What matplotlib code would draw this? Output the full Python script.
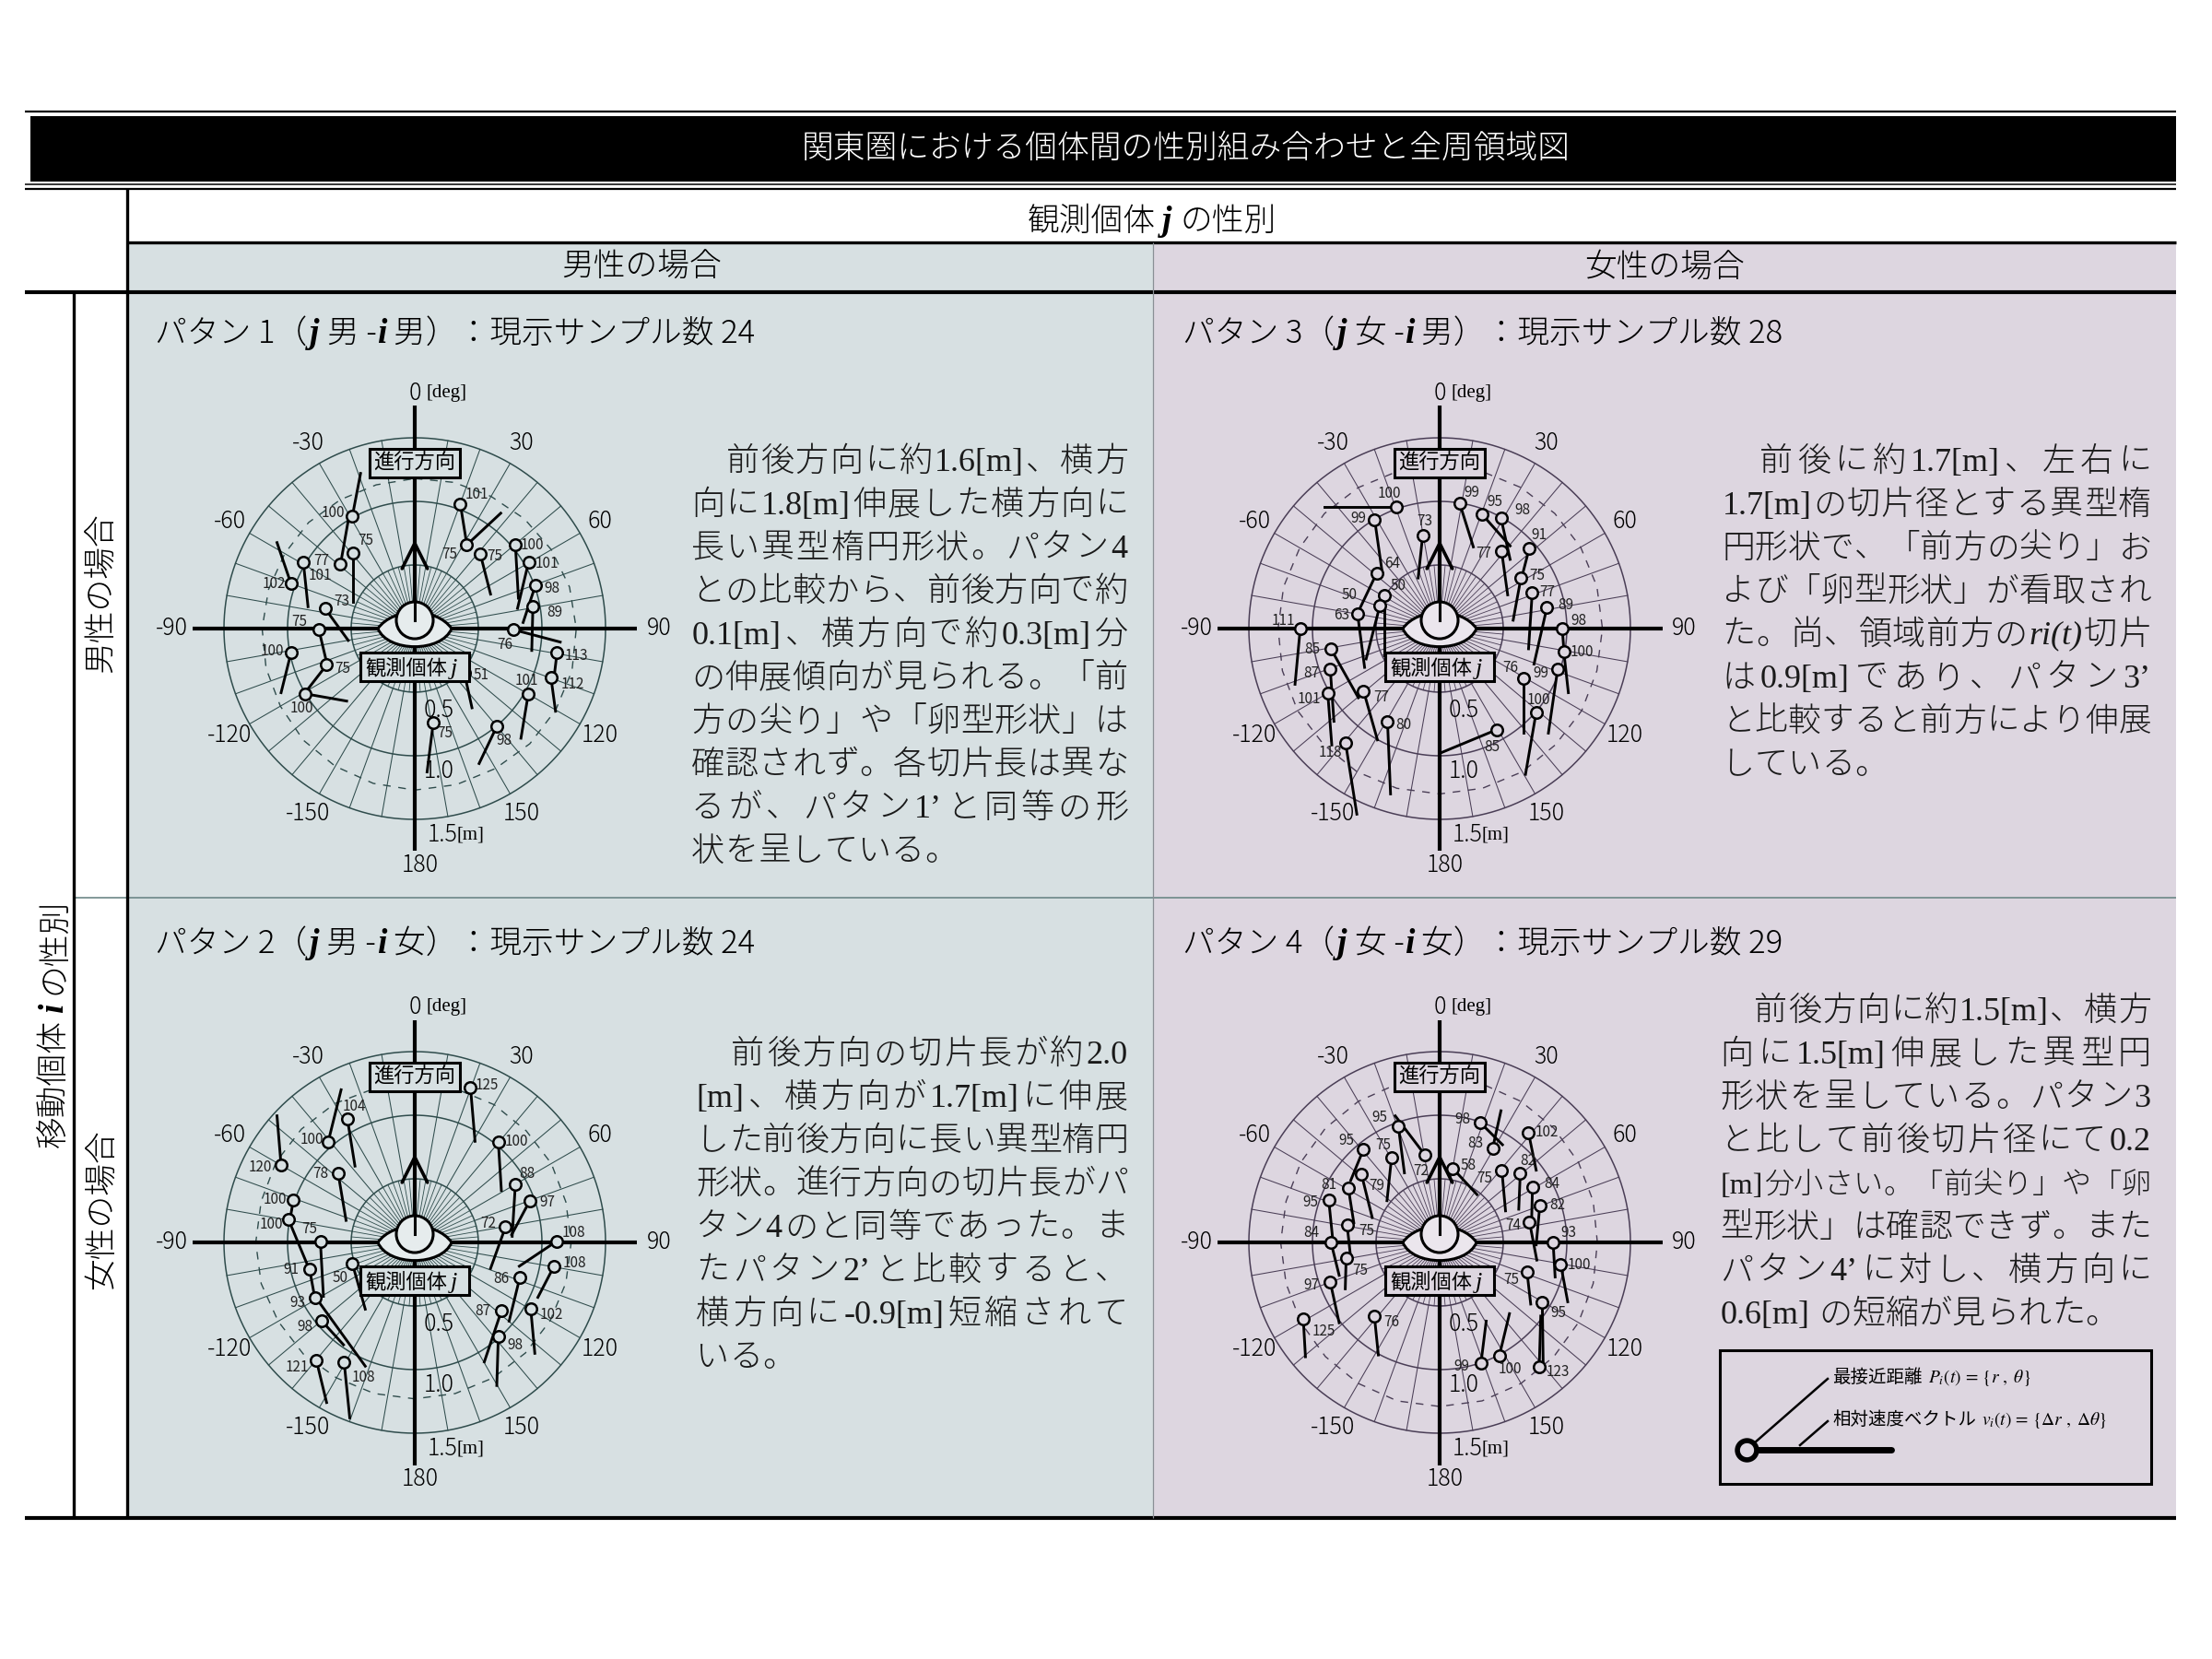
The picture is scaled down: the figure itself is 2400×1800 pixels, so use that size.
import matplotlib

matplotlib.use("Agg")
import matplotlib.pyplot as plt
import numpy as np
from matplotlib.patches import Circle, PathPatch, Rectangle
from matplotlib.path import Path

W, H = 2400, 1800
CJK = ["Noto Sans CJK JP", "DejaVu Sans"]
SERIF = ["Liberation Serif", "DejaVu Serif"]
plt.rcParams["font.family"] = CJK
plt.rcParams["mathtext.fontset"] = "stix"

BLUE = "#d7e0e2"
LAV = "#ddd6e0"
EYE_B = "#e6eced"
EYE_L = "#ebe6ed"
GRID_B = "#2f4c4c"
GRID_L = "#4a3e56"

TITLE = "関東圏における個体間の性別組み合わせと全周領域図"

# --- pattern 1 (j male - i male): position (x lateral, y forward) [m], vector end, label
p1_x = [-0.491, -0.584, -0.482, -0.876, -0.973, -0.706, -0.754, -0.693, -0.864, -0.973,
        0.358, 0.409, 0.516, 0.791, 0.895, 0.949, 0.929, 0.774, 1.119, 1.071, 0.893, 0.389, 0.645, 0.146]
p1_y = [0.881, 0.504, 0.597, 0.523, 0.353, 0.159, -0.008, -0.286, -0.512, -0.191,
        0.981, 0.658, 0.584, 0.663, 0.523, 0.340, 0.172, -0.008, -0.186, -0.385, -0.512, -0.345, -0.769, -0.737]
p1_tx = [-0.426, -0.523, -0.482, -0.839, -1.083, -0.523, -0.693, -0.852, -0.535, -1.051,
         0.409, 0.676, 0.596, 0.815, 0.808, 0.852, 0.920, 1.144, 1.095, 1.107, 0.835, 0.450, 0.506, 0.097]
p1_ty = [1.220, 0.849, 0.212, 0.172, 0.676, -0.093, -0.265, -0.491, -0.570, -0.504,
         0.663, 0.907, 0.271, 0.239, 0.159, 0.048, -0.172, -0.106, -0.385, -0.650, -0.862, -0.623, -1.061, -1.127]
p1_lab = [100, 101, 75, 77, 102, 73, 75, 75, 100, 100,
          101, 75, 75, 100, 101, 98, 89, 76, 113, 112, 101, 51, 98, 75]
p1_dash = [1.18, 1.19, 1.20, 1.22, 1.24, 1.26, 1.27, 1.28, 1.28, 1.28, 1.27, 1.27,
           1.27, 1.26, 1.25, 1.24, 1.22, 1.21, 1.20, 1.19, 1.18, 1.18, 1.17, 1.17]

# --- pattern 2 (j male - i female)
p2_x = [0.438, 0.657, 0.791, 0.905, 0.713, 1.114, 1.095, 0.827, 0.681, 0.912, 0.657,
        -0.530, -0.681, -1.051, -0.603, -0.954, -0.993, -0.742, -0.827, -0.491, -0.779, -0.735, -0.774, -0.555]
p2_y = [1.221, 0.789, 0.456, 0.328, 0.120, 0.008, -0.187, -0.272, -0.539, -0.525, -0.739,
        0.973, 0.789, 0.608, 0.547, 0.336, 0.181, 0.008, -0.211, -0.165, -0.432, -0.613, -0.925, -0.944]
p2_tx = [0.474, 0.681, 0.766, 0.762, 0.596, 0.822, 0.968, 0.742, 0.547, 0.944, 0.645,
         -0.470, -0.579, -1.083, -0.540, -0.978, -0.832, -0.718, -0.779, -0.389, -0.389, -0.560, -0.693, -0.511]
p2_ty = [0.795, 0.408, 0.048, 0.061, -0.205, -0.187, -0.432, -0.619, -0.939, -0.872, -1.125,
         0.600, 1.200, 0.995, 0.173, 0.195, -0.205, -0.424, -0.472, -0.525, -0.973, -0.805, -1.259, -1.379]
p2_lab = [125, 100, 88, 97, 72, 108, 108, 86, 87, 102, 98,
          104, 100, 120, 78, 100, 100, 75, 91, 50, 93, 98, 121, 108]
p2_dash = [1.25, 1.25, 1.25, 1.24, 1.24, 1.23, 1.23, 1.23, 1.23, 1.23, 1.23, 1.23,
           1.23, 1.23, 1.23, 1.24, 1.24, 1.25, 1.25, 1.25, 1.26, 1.26, 1.26, 1.25]

# --- pattern 3 (j female - i male)
p3_x = [-0.337, -0.511, -0.494, -0.646, -0.434, -0.470, -0.133, -1.096, -0.855, -0.860, -0.880, -0.598,
        -0.410, -0.740, 0.446, 0.157, 0.330, 0.482, 0.487, 0.704, 0.639, 0.728, 0.843, 0.964, 0.976,
        0.928, 0.658, 0.759]
p3_y = [0.960, 0.857, 0.438, 0.119, 0.260, 0.180, 0.735, 0.0, -0.159, -0.318, -0.504, -0.491,
        -0.729, -0.897, -0.796, 0.987, 0.902, 0.870, 0.610, 0.629, 0.398, 0.284, 0.164, 0.0, -0.180,
        -0.318, -0.390, -0.658]
p3_tx = [-0.904, -0.453, -0.646, -0.590, -0.434, -0.578, -0.169, -1.137, -0.639, -0.831, -0.848, -0.489,
         -0.386, -0.651, 0.0, 0.265, 0.554, 0.554, 0.535, 0.651, 0.578, 0.699, 0.742, 0.976, 1.012,
         0.855, 0.658, 0.675]
p3_ty = [0.960, 0.451, 0.119, -0.305, -0.212, -0.239, 0.398, -0.438, -0.544, -0.729, -0.915, -0.875,
         -1.300, -1.459, -0.981, 0.642, 0.650, 0.544, 0.265, 0.424, 0.066, -0.159, -0.279, -0.159, -0.504,
         -0.822, -0.822, -1.146]
p3_lab = [100, 99, 64, 63, 50, 50, 73, 111, 85, 87, 101, 77, 80, 118, 85,
          99, 95, 98, 77, 91, 75, 77, 89, 98, 100, 99, 76, 100]
p3_dash = [1.28, 1.28, 1.28, 1.28, 1.28, 1.28, 1.28, 1.28, 1.29, 1.29, 1.30, 1.30,
           1.30, 1.30, 1.30, 1.29, 1.29, 1.28, 1.27, 1.27, 1.27, 1.28, 1.28, 1.28]

# --- pattern 4 (j female - i female)
p4_x = [-0.325, -0.116, -0.598, -0.378, -0.614, -0.718, -0.872, -0.728, -0.855, -0.735, -0.860, -1.072,
        -0.513, 0.320, 0.417, 0.104, 0.489, 0.699, 0.634, 0.730, 0.788, 0.706, 0.892, 0.952, 0.687,
        0.807, 0.783, 0.325, 0.470]
p4_y = [0.915, 0.688, 0.733, 0.667, 0.533, 0.429, 0.333, 0.141, 0.003, -0.120, -0.312, -0.605,
        -0.579, 0.941, 0.741, 0.581, 0.568, 0.861, 0.547, 0.435, 0.293, 0.163, 0.0, -0.173, -0.232,
        -0.472, -0.979, -0.949, -0.888]
p4_tx = [-0.277, -0.349, -0.699, -0.414, -0.530, -0.675, -0.839, -0.699, -0.790, -0.742, -0.790, -1.055,
         -0.482, 0.494, 0.482, 0.294, 0.518, 0.759, 0.622, 0.723, 0.759, 0.764, 0.908, 1.007, 0.716,
         0.814, 0.795, 0.366, 0.549]
p4_ty = [0.547, 0.995, 0.488, 0.328, 0.195, 0.155, 0.008, -0.125, -0.259, -0.365, -0.632, -0.899,
         -0.885, 0.768, 1.035, 0.376, 0.248, 0.568, 0.261, 0.168, -0.019, -0.139, -0.272, -0.467, -0.485,
         -0.952, -0.579, -0.619, -0.560]
p4_lab = [95, 72, 95, 75, 79, 81, 95, 75, 84, 75, 97, 125, 76,
          98, 83, 58, 75, 102, 82, 84, 82, 74, 93, 100, 75, 95, 123, 99, 100]
p4_dash = [1.29, 1.29, 1.28, 1.27, 1.26, 1.25, 1.24, 1.25, 1.26, 1.27, 1.28, 1.29,
           1.29, 1.29, 1.28, 1.27, 1.26, 1.25, 1.25, 1.25, 1.26, 1.27, 1.28, 1.29]

# label offsets (pixels) for each sample number, layout only
p1_off = [(-21, 4), (-22, -12), (13, 13), (20, 1), (-18, 0), (18, 8), (-21, 9), (17, -4), (-3, -16),
          (-20, 2), (18, 10), (-19, -10), (16, -2), (18, -1), (20, -2), (18, -3), (24, -6), (-9, -16),
          (21, -4), (24, -7), (-2, 14), (18, -3), (8, -15), (13, -12)]
p2_off = [(18, 2), (20, 1), (13, 12), (19, -2), (-19, 4), (19, 9), (22, 3), (-20, -2), (-20, 0), (22, -6),
          (18, -10), (8, 13), (-18, 3), (-23, -2), (-19, -1), (-20, 0), (-19, -5), (-12, 13), (-20, 0),
          (-13, -16), (-20, -6), (-18, -7), (-21, -8), (21, -16)]
p3_off = [(-8, 14), (-18, 1), (17, 10), (-17, -2), (15, 11), (-33, 12), (2, 15), (-18, 8), (-20, -1),
          (-21, -5), (-20, -7), (19, -7), (17, -4), (-16, -11), (-5, -19), (13, 11), (14, 13), (23, 8),
          (-19, -3), (11, 15), (18, 3), (16, 0), (20, 3), (18, 8), (20, -1), (-18, -5), (-14, 11), (3, 13)]
p4_off = [(-20, 9), (-4, -17), (-19, 9), (-9, 13), (16, -12), (-21, 3), (-20, -2), (21, -7), (-21, 10),
          (15, -14), (-20, -3), (22, -13), (19, -7), (-19, 4), (-19, 5), (17, 3), (-19, -9), (20, 1),
          (8, 13), (21, 3), (19, 0), (-18, -4), (17, 10), (20, -1), (-17, -8), (18, -11), (20, -5),
          (-21, -4), (12, -15)]

ANGLE_TICKS = [30, 60, 120, 150, 210, 240, 300, 330]
ANGLE_NAMES = ["30", "60", "120", "150", "-150", "-120", "-60", "-30"]

text1 = ["　前後方向に約 1.6[m]、横方", "向に 1.8[m] 伸展した横方向に", "長い異型楕円形状。パタン 4",
         "との比較から、前後方向で約", "0.1[m]、横方向で約 0.3[m] 分", "の伸展傾向が見られる。「前",
         "方の尖り」や「卵型形状」は", "確認されず。各切片長は異な", "るが、パタン 1’と同等の形",
         "状を呈している。"]
text2 = ["　前後方向の切片長が約 2.0", "[m]、横方向が 1.7[m] に伸展", "した前後方向に長い異型楕円",
         "形状。進行方向の切片長がパ", "タン 4 のと同等であった。ま", "たパタン 2’と比較すると、",
         "横方向に -0.9[m] 短縮されて", "いる。"]
text3 = ["　前後に約 1.7[m]、左右に", "1.7[m] の切片径とする異型楕", "円形状で、「前方の尖り」お",
         "よび「卵型形状」が看取され", "た。尚、領域前方の *ri(t)* 切片", "は 0.9[m] であり、パタン 3’",
         "と比較すると前方により伸展", "している。"]
text4 = ["　前後方向に約 1.5[m]、横方", "向に 1.5[m] 伸展した異型円", "形状を呈している。パタン 3",
         "と比して前後切片径にて 0.2", "[m] 分小さい。「前尖り」や「卵", "型形状」は確認できず。また",
         "パタン 4’に対し、横方向に", "0.6[m] の短縮が見られた。"]

RL = 1.95      # polar radial limit [m]
PPM = 138.0    # pixels per metre
HALF = RL * PPM

fig = plt.figure(figsize=(24, 18), dpi=100)
fig.patch.set_facecolor("white")
bg = fig.add_axes([0, 0, 1, 1], zorder=0)
bg.set_xlim(0, W)
bg.set_ylim(H, 0)
bg.set_axis_off()
ren = fig.canvas.get_renderer()


def hline(y, x0, x1, lw, color="black"):
    bg.plot([x0, x1], [y, y], color=color, lw=lw, solid_capstyle="butt")


def vline(x, y0, y1, lw, color="black"):
    bg.plot([x, x], [y0, y1], color=color, lw=lw, solid_capstyle="butt")


def rich(x, y, parts, ha="left", rot=0, color="black"):
    items = []
    for p in parts:
        if isinstance(p, (int, float)):
            items.append((None, p))
            continue
        s, kw = p
        t = bg.text(0, 0, s, ha="left", va="baseline", color=color, **kw)
        items.append((t, t.get_window_extent(ren).width))
    total = sum(w for _, w in items)
    pos = {"left": 0.0, "center": -total / 2, "right": -total}[ha]
    for t, w in items:
        if t is not None:
            if rot == 0:
                t.set_position((x + pos, y))
            else:
                t.set_rotation(rot)
                t.set_rotation_mode("anchor")
                t.set_position((x, y - pos))
        pos += w


def tokens(line):
    out, buf, ital = [], "", False
    for ch in line:
        if ch == "*":
            if buf:
                out.append((buf, "i" if ital else "l"))
                buf = ""
            ital = not ital
        elif ch == " ":
            if buf:
                out.append((buf, "i" if ital else "l"))
                buf = ""
        elif ord(ch) < 0x2000 or ch == "’":
            buf += ch
        else:
            if buf:
                out.append((buf, "i" if ital else "l"))
                buf = ""
            out.append((ch, "c"))
    if buf:
        out.append((buf, "i" if ital else "l"))
    return out


def layout_line(line, fs):
    em = fs * 100 / 72
    items = []
    for s, kind in tokens(line):
        if kind == "c":
            t = bg.text(0, 0, s, fontsize=fs, family=CJK, weight="light", color="#1a1a1a",
                        ha="left", va="baseline")
            w = em
        else:
            t = bg.text(0, 0, s, fontsize=fs, family=SERIF, color="#1a1a1a",
                        style="italic" if kind == "i" else "normal", ha="left", va="baseline")
            w = t.get_window_extent(ren).width + 0.04 * em
        items.append((t, w, kind))
    return items, em


def paragraph(x0, x1, y0, step, lines, fs=26):
    for k, line in enumerate(lines):
        items, em = layout_line(line, fs)
        total = sum(it[1] for it in items)
        if total > x1 - x0:
            # line would overflow: set it a little smaller instead
            for it in items:
                it[0].remove()
            items, em = layout_line(line, fs * (x1 - x0) / total * 0.995)
            total = sum(it[1] for it in items)
        n = len(items)
        if k == len(lines) - 1:
            gaps = [0.25 * em if (items[i][2] != "c" or items[i + 1][2] != "c") else 0.0
                    for i in range(n - 1)]
        else:
            g = (x1 - x0 - total) / max(n - 1, 1)
            gaps = [g] * (n - 1)
        pos = x0
        yb = y0 + k * step + 0.38 * fs * 100 / 72
        for i, (t, w, kind) in enumerate(items):
            # ha="left" puts the glyph origin at the anchor
            t.set_position((pos if kind == "c" else pos + 0.02 * em, yb))
            pos += w + (gaps[i] if i < n - 1 else 0.0)


# ---------------- table frame ----------------
bg.add_patch(Rectangle((138, 263), 1113, 54, fc=BLUE, ec="none"))
bg.add_patch(Rectangle((1251, 263), 1110, 54, fc=LAV, ec="none"))
bg.add_patch(Rectangle((138, 317), 1113, 1330, fc=BLUE, ec="none"))
bg.add_patch(Rectangle((1251, 317), 1110, 1330, fc=LAV, ec="none"))
hline(121, 27, 2361, 1.6)
bg.add_patch(Rectangle((33, 126), 2328, 71, fc="black", ec="none"))
hline(200, 27, 2361, 1.1)
hline(205, 27, 2361, 1.6)
hline(263, 138, 2361, 2.4)
hline(317, 27, 2361, 3.0)
hline(974, 80, 2361, 1.2, color="#6d8888")
hline(1647, 27, 2361, 3.0)
vline(138, 205, 1647, 2.4)
vline(80, 317, 1647, 2.4)
vline(1251, 263, 1647, 0.9, color="#8a8f95")

bg.text(1287, 161, TITLE, fontsize=25, color="white", weight="light", ha="center", va="center")
cjk25 = dict(fontsize=25, family=CJK, weight="light")
bij = dict(fontsize=27, family=SERIF, style="italic", weight="bold")
rich(1250, 237 + 13, [("観測個体", cjk25), 7, ("j", bij), 9, ("の性別", cjk25)], ha="center")
rich(68, 1110, [("移動個体", cjk25), 7, ("i", bij), 9, ("の性別", cjk25)], ha="center", rot=90)
bg.text(696, 290, "男性の場合", fontsize=25, weight="light", ha="center", va="center")
bg.text(1806, 290, "女性の場合", fontsize=25, weight="light", ha="center", va="center")
bg.text(110, 643, "男性の場合", fontsize=25, weight="light", rotation=90, ha="center", va="center")
bg.text(110, 1312, "女性の場合", fontsize=25, weight="light", rotation=90, ha="center", va="center")

cjk24 = dict(fontsize=25, family=CJK, weight="light")
bi24 = dict(fontsize=27, family=SERIF, style="italic", weight="bold")
titles = [(168, 360, "1", "男", "男", "24"), (168, 1022, "2", "男", "女", "24"),
          (1283, 360, "3", "女", "男", "28"), (1283, 1022, "4", "女", "女", "29")]
for tx_, ty_, num, gj, gi, cnt in titles:
    rich(tx_, ty_ + 12, [(f"パタン {num}（", cjk24), 3, ("j", bi24), 8, (f"{gj} -", cjk24), 1,
                         ("i", bi24), 7, (f"{gi}）：現示サンプル数 {cnt}", cjk24)])

paragraph(750, 1224, 497, 47, text1)
paragraph(755, 1224, 1140, 47, text2)
paragraph(1868, 2334, 497, 47, text3)
paragraph(1866, 2334, 1093, 47, text4)

# ---------------- legend box ----------------
bg.add_patch(Rectangle((1866, 1465), 468, 145, fc=LAV, ec="black", lw=2.2))
bg.plot([1895, 2052], [1573, 1573], color="black", lw=5, solid_capstyle="round")
bg.plot([1895, 1983], [1573, 1496], color="black", lw=1.8)
bg.plot([1953, 1983], [1568, 1542], color="black", lw=1.8)
bg.plot([1895], [1573], "o", ms=15, mfc=LAV, mec="black", mew=4)
cjk14 = dict(fontsize=14, family=CJK)
m14 = dict(fontsize=14)
rich(1988, 1500, [("最接近距離", cjk14), 6, (r"$P_i(t)\,=\,\{r\ ,\ \theta\}$", m14)])
rich(1988, 1546, [("相対速度ベクトル", cjk14), 6, (r"$v_i(t)\,=\,\{\Delta r\ ,\ \Delta\theta\}$", m14)])


# ---------------- polar panels ----------------
def panel(cx, cy, face, eye_face, gcol, xs, ys, txs, tys, labs, offs, dash):
    rect = [(cx - HALF) / W, 1 - (cy + HALF) / H, 2 * HALF / W, 2 * HALF / H]
    ax = fig.add_axes(rect, projection="polar", zorder=2)
    ax.set_theta_zero_location("N")
    ax.set_theta_direction(-1)
    ax.set_ylim(0, RL)
    ax.set_axis_off()

    ring = np.linspace(0, 2 * np.pi, 361)
    for rr in (0.5, 1.0, 1.5):
        ax.plot(ring, np.full_like(ring, rr), color=gcol, lw=1.1)
    for a in np.radians(np.arange(0, 360, 10)):
        ax.plot([a, a], [0.5, 1.5], color=gcol, lw=0.75)
    for a in np.radians(np.arange(0, 360, 5)):
        ax.plot([a, a], [0.15, 0.5], color=gcol, lw=0.6)
    dth = np.radians(np.arange(0, 375, 15))
    ax.plot(dth, list(dash) + [dash[0]], color=gcol, lw=1.0, ls=(0, (6, 6)))
    for a in np.radians([0, 90, 180, 270]):
        ax.plot([a, a], [0, 1.75], color="black", lw=3.0, solid_capstyle="butt")
    ax.annotate("", xy=(0, 0.70), xytext=(0, 0.40),
                arrowprops=dict(arrowstyle="->,head_length=0.9,head_width=0.45", lw=2.6,
                                color="black", shrinkA=0, shrinkB=0, mutation_scale=22))

    xs, ys, txs, tys = map(np.asarray, (xs, ys, txs, tys))
    th0, r0 = np.arctan2(xs, ys), np.hypot(xs, ys)
    th1, r1 = np.arctan2(txs, tys), np.hypot(txs, tys)
    for a0, q0, a1, q1 in zip(th0, r0, th1, r1):
        ax.plot([a0, a1], [q0, q1], color="black", lw=2.1, zorder=4)
    ax.plot(th0, r0, "o", ls="none", ms=9, mfc=face, mec="black", mew=1.8, zorder=5)
    for a0, q0, lab, (dx, dy) in zip(th0, r0, labs, offs):
        ax.annotate(str(lab), (a0, q0), xytext=(dx, dy), textcoords="offset pixels",
                    ha="center", va="center", fontsize=11, color="#222222", zorder=6)

    for a, name in zip(ANGLE_TICKS, ANGLE_NAMES):
        ax.text(np.radians(a), 1.68, name, fontsize=18, weight="light", ha="center", va="center")
    ax.text(np.radians(90), 1.92, "90", fontsize=18, weight="light", ha="center", va="center")
    ax.text(np.radians(270), 1.91, "-90", fontsize=18, weight="light", ha="center", va="center")

    ov = fig.add_axes(rect, zorder=3)
    ov.set_xlim(-RL, RL)
    ov.set_ylim(-RL, RL)
    ov.set_axis_off()
    eye = Path([(-0.29, 0.0), (-0.17, 0.17), (0.17, 0.17), (0.29, 0.0),
                (0.21, -0.19), (-0.21, -0.19), (-0.29, 0.0)],
               [Path.MOVETO, Path.CURVE4, Path.CURVE4, Path.CURVE4,
                Path.CURVE4, Path.CURVE4, Path.CURVE4])
    ov.add_patch(PathPatch(eye, fc=eye_face, ec="black", lw=2.2))
    ov.add_patch(Circle((0, 0.065), 0.145, fc=eye_face, ec="black", lw=2.2))
    ov.plot([0, 0], [0.065, 0.21], color="black", lw=2.2)
    ov.add_patch(Rectangle((-0.355, 1.19), 0.71, 0.22, fc=face, ec="black", lw=2.2))
    ov.text(0, 1.30, "進行方向", fontsize=16, ha="center", va="center")
    ov.add_patch(Rectangle((-0.425, -0.41), 0.85, 0.22, fc=face, ec="black", lw=2.2))
    ov.text(-0.39, -0.36, "観測個体", fontsize=16, ha="left", va="baseline")
    ov.text(0.28, -0.36, "j", fontsize=19, family=SERIF, style="italic", ha="left", va="baseline")

    ov.text(0.0, 1.85, "0", fontsize=18, weight="light", ha="center", va="center")
    ov.text(0.09, 1.85, "[deg]", fontsize=15, family=SERIF, ha="left", va="center")
    ov.text(0.04, -1.86, "180", fontsize=18, weight="light", ha="center", va="center")
    ov.text(0.10, -1.62, "1.5", fontsize=18, weight="light", ha="left", va="center")
    ov.text(0.33, -1.62, "[m]", fontsize=15, family=SERIF, ha="left", va="center")
    ov.text(0.07, -0.64, "0.5", fontsize=18, weight="light", ha="left", va="center")
    ov.text(0.07, -1.12, "1.0", fontsize=18, weight="light", ha="left", va="center")


panel(450, 682, BLUE, EYE_B, GRID_B, p1_x, p1_y, p1_tx, p1_ty, p1_lab, p1_off, p1_dash)
panel(450, 1348, BLUE, EYE_B, GRID_B, p2_x, p2_y, p2_tx, p2_ty, p2_lab, p2_off, p2_dash)
panel(1562, 682, LAV, EYE_L, GRID_L, p3_x, p3_y, p3_tx, p3_ty, p3_lab, p3_off, p3_dash)
panel(1562, 1348, LAV, EYE_L, GRID_L, p4_x, p4_y, p4_tx, p4_ty, p4_lab, p4_off, p4_dash)

fig.savefig("out.png", dpi=100, facecolor="white")
